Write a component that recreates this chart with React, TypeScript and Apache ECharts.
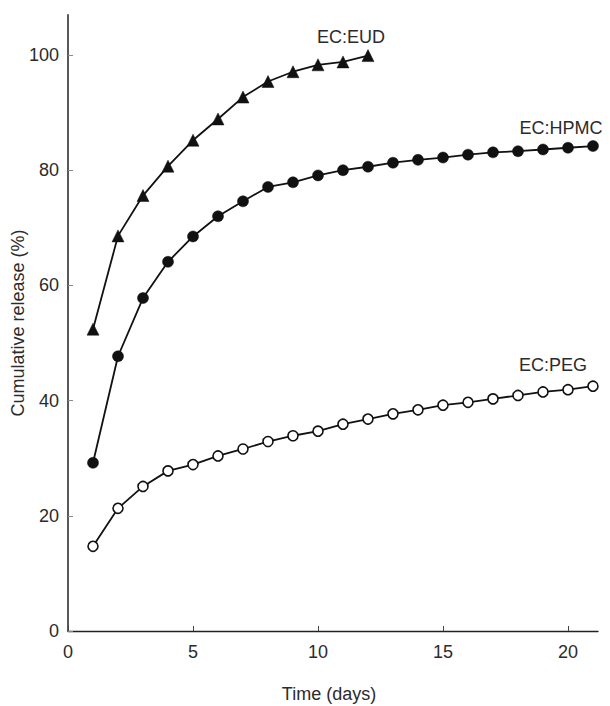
import React, { useEffect, useRef } from "react";
import * as echarts from "echarts";

const days = [1, 2, 3, 4, 5, 6, 7, 8, 9, 10, 11, 12, 13, 14, 15, 16, 17, 18, 19, 20, 21];
const eud = [52.4, 68.6, 75.6, 80.7, 85.2, 88.9, 92.7, 95.4, 97.1, 98.3, 98.8, 99.9];
const hpmc = [29.2, 47.7, 57.8, 64.1, 68.5, 72.0, 74.6, 77.1, 77.9, 79.1, 80.0, 80.6, 81.3, 81.8, 82.2, 82.7, 83.1, 83.3, 83.6, 83.9, 84.2];
const peg = [14.7, 21.3, 25.1, 27.8, 28.9, 30.4, 31.6, 32.9, 33.9, 34.7, 35.9, 36.8, 37.7, 38.4, 39.2, 39.7, 40.3, 40.9, 41.5, 41.9, 42.5];
const seriesNames = ["EC:EUD", "EC:HPMC", "EC:PEG"];
const xTitle = "Time (days)";
const yTitle = "Cumulative release (%)";

const FONT = "'Liberation Sans', Arial, Helvetica, sans-serif";
const TXT = "#2b2b2b";
const FS = 18;

export default function App() {
  const ref = useRef<HTMLDivElement>(null);
  useEffect(() => {
    if (!ref.current) return;
    const chart = echarts.init(ref.current, undefined, { renderer: "svg" });
    const pair = (vals: number[]) => vals.map((v, i) => [days[i], v]);
    const lineStyle = { color: "#111", width: 1.8 };
    const textStyle = (text: string) => ({
      text,
      fill: TXT,
      font: `${FS}px ${FONT}`,
      align: "center",
      verticalAlign: "middle",
    });
    chart.setOption({
      animation: false,
      backgroundColor: "#fff",
      textStyle: { fontFamily: FONT },
      grid: { left: 68, right: 12, top: 14.7, bottom: 75, containLabel: false },
      xAxis: {
        type: "value",
        min: 0,
        max: 21.2,
        interval: 5,
        splitLine: { show: false },
        axisLine: { lineStyle: { color: "#222", width: 1.3 } },
        axisTick: { inside: true, length: 5, lineStyle: { color: "#444", width: 1 } },
        axisLabel: { showMaxLabel: false, color: TXT, fontSize: FS, margin: 12, fontFamily: FONT },
      },
      yAxis: {
        type: "value",
        min: 0,
        max: 107,
        interval: 20,
        splitLine: { show: false },
        axisLine: { lineStyle: { color: "#222", width: 1.5 } },
        axisTick: { inside: true, length: 5, lineStyle: { color: "#888", width: 1 } },
        axisLabel: {
          showMaxLabel: false,
          color: TXT,
          fontSize: FS,
          margin: 9,
          fontFamily: FONT,
          formatter: (v: number) => (v % 20 === 0 ? String(v) : ""),
        },
      },
      series: [
        {
          name: seriesNames[0],
          type: "line",
          data: pair(eud),
          symbol: "triangle",
          symbolSize: 12,
          itemStyle: { color: "#111", borderColor: "#111", borderWidth: 0.5 },
          lineStyle,
        },
        {
          name: seriesNames[1],
          type: "line",
          data: pair(hpmc),
          symbol: "circle",
          symbolSize: 11,
          itemStyle: { color: "#111", borderColor: "#111", borderWidth: 0.5 },
          lineStyle,
        },
        {
          name: seriesNames[2],
          type: "line",
          data: pair(peg),
          symbol: "circle",
          symbolSize: 10,
          itemStyle: { color: "#fff", borderColor: "#111", borderWidth: 1.6 },
          lineStyle,
        },
      ],
      graphic: [
        { type: "text", x: 351, y: 37, style: textStyle(seriesNames[0]) },
        { type: "text", x: 561, y: 128, style: textStyle(seriesNames[1]) },
        { type: "text", x: 553, y: 365, style: textStyle(seriesNames[2]) },
        { type: "text", x: 329, y: 694, style: textStyle(xTitle) },
        { type: "text", x: 18, y: 323, rotation: Math.PI / 2, style: textStyle(yTitle) },
      ],
    });
    return () => chart.dispose();
  }, []);
  return <div ref={ref} style={{ position: "fixed", left: 0, top: 0, width: 610, height: 706 }} />;
}
